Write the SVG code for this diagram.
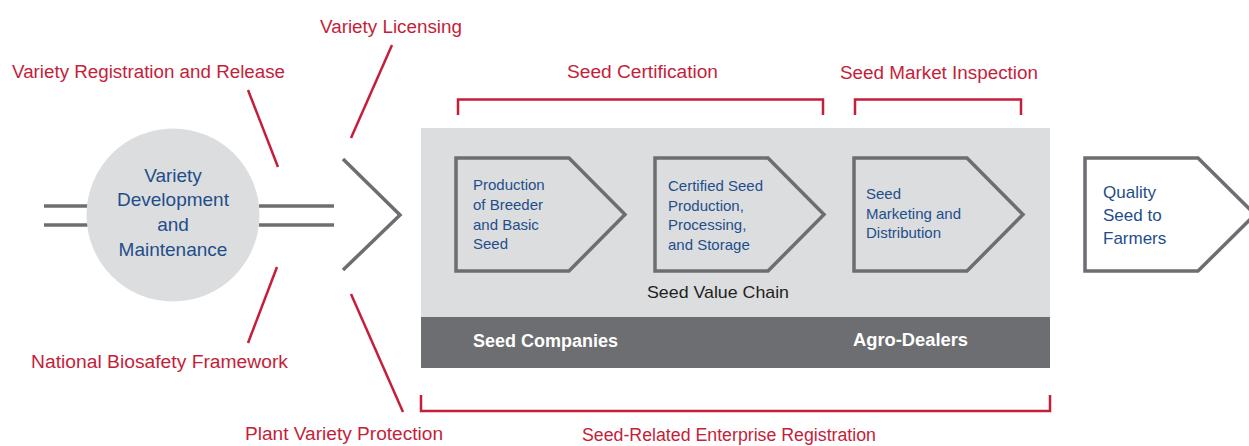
<svg xmlns="http://www.w3.org/2000/svg" width="1249" height="446" viewBox="0 0 1249 446">
<style>
.red{font-family:"Liberation Sans",Arial,sans-serif;font-size:18px;fill:#c41e3a}
.blue{font-family:"Liberation Sans",Arial,sans-serif;font-size:15px;fill:#1f4e8a}
.circ{font-family:"Liberation Sans",Arial,sans-serif;font-size:19px;fill:#1f4e8a;text-anchor:middle}
.qual{font-family:"Liberation Sans",Arial,sans-serif;font-size:17px;fill:#1f4e8a}
.band{font-family:"Liberation Sans",Arial,sans-serif;font-size:18px;font-weight:bold;fill:#ffffff}
.rl{stroke:#c41e3a;stroke-width:2.5;fill:none}
.gl{stroke:#6d6e71;stroke-width:3.5;fill:none}
.pent{stroke:#6d6e71;stroke-width:3.5;fill:#dcdddf}
</style>
<rect width="1249" height="446" fill="#ffffff"/>
<g id="chain-box">
<rect x="421" y="128" width="629" height="189" fill="#dcdddf"/>
<rect x="421" y="317" width="629" height="51" fill="#6d6e71"/>
<text class="band" x="473" y="347" textLength="145" lengthAdjust="spacingAndGlyphs">Seed Companies</text>
<text class="band" x="853" y="346" textLength="115" lengthAdjust="spacingAndGlyphs">Agro-Dealers</text>
<text x="647" y="298" font-family="Liberation Sans, Arial, sans-serif" font-size="17" fill="#231f20" textLength="142" lengthAdjust="spacingAndGlyphs">Seed Value Chain</text>
</g>
<g id="connectors">
<line class="gl" x1="44" y1="206" x2="88" y2="206"/>
<line class="gl" x1="44" y1="225" x2="88" y2="225"/>
<line class="gl" x1="259" y1="206" x2="334" y2="206"/>
<line class="gl" x1="259" y1="225" x2="334" y2="225"/>
<polyline class="gl" points="343,159 400,215 343,270"/>
<line class="rl" x1="248" y1="90" x2="278" y2="167"/>
<line class="rl" x1="392" y1="45" x2="351" y2="138"/>
<line class="rl" x1="277" y1="267" x2="248" y2="343"/>
<line class="rl" x1="351" y1="294" x2="403" y2="412"/>
<polyline class="rl" points="458,115 458,99.5 823,99.5 823,115"/>
<polyline class="rl" points="855,115 855,99.5 1021,99.5 1021,115"/>
<polyline class="rl" points="421,395 421,411 1050,411 1050,395"/>
</g>
<g id="node-variety">
<circle cx="173" cy="215" r="86.5" fill="#dcdddf"/>
<text class="circ" x="173" y="182">Variety</text>
<text class="circ" x="173" y="206">Development</text>
<text class="circ" x="173" y="231">and</text>
<text class="circ" x="173" y="256">Maintenance</text>
</g>
<g id="node-breeder">
<polygon class="pent" points="456,158 569,158 625,214.5 569,271 456,271"/>
<text class="blue" x="473" y="190">Production</text>
<text class="blue" x="473" y="210">of Breeder</text>
<text class="blue" x="473" y="230">and Basic</text>
<text class="blue" x="473" y="249">Seed</text>
</g>
<g id="node-certified">
<polygon class="pent" points="655,158 768,158 824,214.5 768,271 655,271"/>
<text class="blue" x="668" y="191">Certified Seed</text>
<text class="blue" x="668" y="211">Production,</text>
<text class="blue" x="668" y="230">Processing,</text>
<text class="blue" x="668" y="250">and Storage</text>
</g>
<g id="node-marketing">
<polygon class="pent" points="854,158 967,158 1023,214.5 967,271 854,271"/>
<text class="blue" x="866" y="199">Seed</text>
<text class="blue" x="866" y="219">Marketing and</text>
<text class="blue" x="866" y="238">Distribution</text>
</g>
<g id="node-quality">
<polygon class="pent" style="fill:#ffffff" points="1085,158 1198,158 1255,214.5 1198,271 1085,271"/>
<text class="qual" x="1103" y="198">Quality</text>
<text class="qual" x="1103" y="221">Seed to</text>
<text class="qual" x="1103" y="244">Farmers</text>
</g>
<g id="labels">
<text class="red" x="12" y="78" textLength="273" lengthAdjust="spacingAndGlyphs">Variety Registration and Release</text>
<text class="red" x="320" y="33" textLength="142" lengthAdjust="spacingAndGlyphs">Variety Licensing</text>
<text class="red" x="31" y="368" textLength="257" lengthAdjust="spacingAndGlyphs">National Biosafety Framework</text>
<text class="red" x="245" y="440" textLength="198" lengthAdjust="spacingAndGlyphs">Plant Variety Protection</text>
<text class="red" x="567" y="78" textLength="151" lengthAdjust="spacingAndGlyphs">Seed Certification</text>
<text class="red" x="840" y="79" textLength="198" lengthAdjust="spacingAndGlyphs">Seed Market Inspection</text>
<text class="red" x="582" y="441" textLength="294" lengthAdjust="spacingAndGlyphs">Seed-Related Enterprise Registration</text>
</g>
</svg>
